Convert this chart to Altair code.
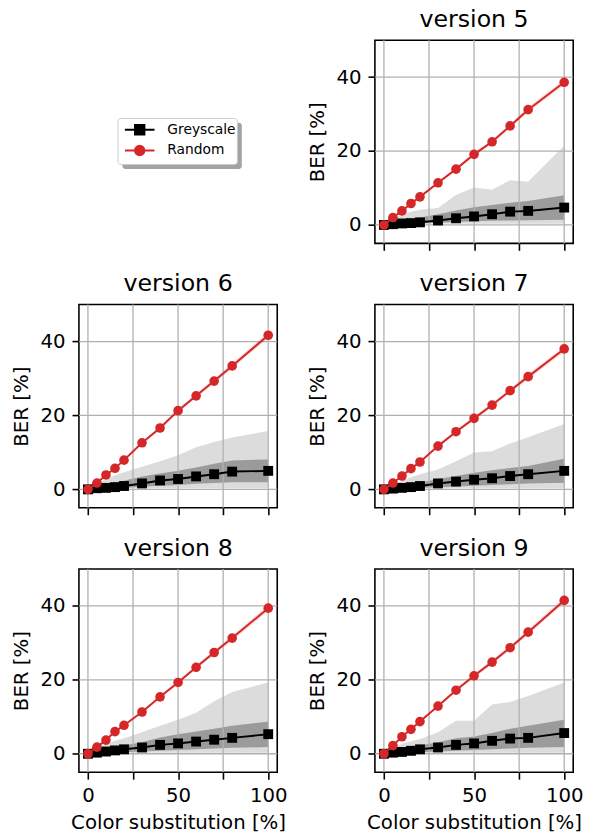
import altair as alt
import pandas as pd

# ---------------- data ----------------
x_vals = [0, 5, 10, 15, 20, 30, 40, 50, 60, 70, 80, 100]
x_ticks = [0, 25, 50, 75, 100]
y_ticks = [0, 20, 40]
series_names = ["Greyscale", "Random"]
series_colors = ["#000000", "#d62728"]

# Random substitution (red) mean BER
random_v5 = [0, 2.0, 3.8, 5.8, 7.6, 11.4, 15.1, 19.1, 22.5, 26.8, 31.2, 38.6]
random_v6 = [0, 1.7, 3.9, 5.7, 7.9, 12.6, 16.6, 21.3, 25.3, 29.3, 33.4, 41.7]
random_v7 = [0, 1.7, 3.6, 5.6, 7.4, 11.7, 15.6, 19.2, 22.8, 26.7, 30.5, 38.0]
random_v8 = [0, 1.8, 3.7, 6.0, 7.7, 11.3, 15.4, 19.3, 23.4, 27.4, 31.3, 39.4]
random_v9 = [0, 2.2, 4.6, 6.6, 8.7, 12.9, 17.2, 21.1, 24.8, 28.7, 32.9, 41.5]
random_spread = [0, 0.1, 0.15, 0.2, 0.25, 0.3, 0.4, 0.5, 0.55, 0.6, 0.7, 0.8]

# Greyscale substitution (black) mean BER
grey_v5 = [0, 0.2, 0.4, 0.5, 0.7, 1.2, 1.8, 2.3, 2.9, 3.6, 3.8, 4.7]
grey_v6 = [0, 0.3, 0.4, 0.6, 0.9, 1.6, 2.4, 2.8, 3.5, 4.1, 4.8, 5.0]
grey_v7 = [0, 0.2, 0.4, 0.6, 0.9, 1.6, 2.1, 2.6, 3.0, 3.6, 4.1, 5.0]
grey_v8 = [0, 0.3, 0.6, 0.9, 1.2, 1.7, 2.4, 2.8, 3.3, 3.8, 4.3, 5.3]
grey_v9 = [0, 0.3, 0.5, 0.8, 1.2, 1.7, 2.4, 2.8, 3.5, 4.1, 4.3, 5.6]

# Greyscale range (light band) upper edge
grey_max_v5 = [0, 1.5, 2.9, 3.6, 4.1, 4.6, 8.1, 10.1, 9.5, 12.1, 11.7, 21.4]
grey_max_v6 = [0, 1.3, 2.7, 3.8, 4.6, 6.1, 7.6, 9.2, 11.4, 12.8, 14.0, 15.8]
grey_max_v7 = [0, 1.2, 2.3, 3.3, 4.1, 5.4, 7.6, 10.0, 10.3, 12.4, 14.1, 17.7]
grey_max_v8 = [0, 1.5, 2.7, 3.5, 4.2, 5.8, 7.6, 9.2, 11.1, 14.2, 16.7, 19.3]
grey_max_v9 = [0, 1.4, 2.7, 3.4, 4.0, 5.8, 8.9, 8.9, 13.3, 14.0, 15.6, 19.3]
grey_min = [0, 0.1, 0.2, 0.3, 0.3, 0.3, 0.3, 0.3, 0.3, 0.3, 0.3, 0.3]

# Greyscale inner band (dark band)
grey_qhi_v5 = [0, 0.6, 1.1, 1.6, 2.0, 2.9, 3.9, 4.8, 5.4, 6.0, 6.5, 8.0]
grey_qhi_v6 = [0, 0.7, 1.4, 1.9, 2.3, 3.5, 4.3, 5.0, 5.9, 6.9, 7.8, 8.1]
grey_qhi_v7 = [0, 0.5, 1.0, 1.4, 1.8, 2.8, 3.6, 4.5, 5.2, 5.8, 6.3, 8.3]
grey_qhi_v8 = [0, 0.7, 1.3, 1.8, 2.2, 3.1, 4.4, 5.3, 6.0, 6.8, 7.6, 8.7]
grey_qhi_v9 = [0, 0.7, 1.3, 1.8, 2.2, 3.1, 4.2, 4.7, 5.6, 6.8, 7.6, 9.2]
grey_qlo_v5 = [0, 0.1, 0.2, 0.3, 0.4, 0.6, 0.8, 1.0, 1.1, 1.2, 1.3, 1.4]
grey_qlo_v6 = [0, 0.1, 0.2, 0.3, 0.4, 0.7, 1.0, 1.2, 1.5, 1.7, 1.9, 1.9]
grey_qlo_v7 = [0, 0.1, 0.2, 0.3, 0.4, 0.6, 0.8, 1.0, 1.2, 1.4, 1.6, 1.8]
grey_qlo_v8 = [0, 0.1, 0.2, 0.3, 0.4, 0.6, 0.8, 1.0, 1.2, 1.4, 1.6, 1.8]
grey_qlo_v9 = [0, 0.1, 0.2, 0.3, 0.4, 0.6, 0.8, 1.0, 1.2, 1.4, 1.6, 1.8]

PW, PH = 201, 206
FONT = "DejaVu Sans"

xs = alt.Scale(domain=[-5, 105], nice=False, zero=False)
ys = alt.Scale(domain=[-5, 50], nice=False, zero=False)


def panel(name, red, grey, gmax, qhi, qlo, bottom):
    df = pd.DataFrame({
        "x": x_vals,
        "random": red,
        "grey": grey,
        "gmax": gmax,
        "gmin": grey_min,
        "qhi": qhi,
        "qlo": qlo,
        "rlo": [r - s for r, s in zip(red, random_spread)],
        "rhi": [r + s for r, s in zip(red, random_spread)],
    })
    if bottom:
        xaxis = alt.Axis(values=x_ticks, title="Color substitution [%]",
                         labelExpr="datum.value % 50 === 0 ? datum.label : ''")
    else:
        xaxis = alt.Axis(values=x_ticks, labels=False, title=None)
    yaxis = alt.Axis(values=y_ticks, title="BER [%]")

    def X(f):
        return alt.X(f, type="quantitative", scale=xs, axis=xaxis)

    def Y(f):
        return alt.Y(f, type="quantitative", scale=ys, axis=yaxis)

    base = alt.Chart(df)
    light = base.mark_area(color="#dcdcdc", opacity=1).encode(
        x=X("x"), y=Y("gmin"), y2="gmax")
    dark = base.mark_area(color="#9b9b9b", opacity=1).encode(
        x=X("x"), y=Y("qlo"), y2="qhi")
    gx = alt.Chart(pd.DataFrame({"v": x_ticks})).mark_rule(
        color="#b0b0b0", strokeWidth=1.3).encode(x=X("v"))
    gy = alt.Chart(pd.DataFrame({"v": y_ticks})).mark_rule(
        color="#b0b0b0", strokeWidth=1.3).encode(y=Y("v"))
    rband = base.mark_area(color="#d62728", opacity=0.15).encode(
        x=X("x"), y=Y("rlo"), y2="rhi")
    gline = base.mark_line(color="black", strokeWidth=2).encode(x=X("x"), y=Y("grey"))
    gpts = base.mark_point(shape="square", filled=True, color="black",
                           size=100, opacity=1).encode(x=X("x"), y=Y("grey"))
    rline = base.mark_line(color="#d62728", strokeWidth=2).encode(x=X("x"), y=Y("random"))
    rpts = base.mark_point(shape="circle", filled=True, color="#d62728",
                           size=95, opacity=1).encode(x=X("x"), y=Y("random"))
    return alt.layer(light, dark, gx, gy, rband, gline, gpts, rline, rpts).properties(
        width=PW, height=PH, title=alt.Title(name))


# ---------------- legend panel ----------------
sq_path = "M-1,0H5M1.05,-0.95H2.95V0.95H1.05Z"
ci_path = "M-1,0H5M2.95,0A0.95,0.95 0 1,1 1.05,0A0.95,0.95 0 1,1 2.95,0Z"
leg_df = pd.DataFrame({"series": series_names})
frame_df = pd.DataFrame({"frame": ["legend"]})

LX, LY, LW, LH, SH = 39.6, 79.3, 121, 46.7, 4.5
main_legend = alt.Legend(
    title=None, orient="none", legendX=LX, legendY=LY - 0.5, padding=5,
    labelFont=FONT, labelFontSize=14, labelColor="black", labelOffset=31,
    symbolSize=100, symbolStrokeWidth=2, symbolOpacity=1, rowPadding=3)

sc = alt.Scale(domain=series_names, range=series_colors)
legend_shadow = alt.Chart(frame_df).mark_rect(
    color="#a3a3a3", cornerRadius=3).encode(
    x=alt.value(LX + SH), x2=alt.value(LX + LW + SH),
    y=alt.value(LY + SH), y2=alt.value(LY + LH + SH))
legend_box = alt.Chart(frame_df).mark_rect(
    fill="#ffffff", stroke="#cccccc", strokeWidth=1, cornerRadius=3).encode(
    x=alt.value(LX), x2=alt.value(LX + LW),
    y=alt.value(LY), y2=alt.value(LY + LH))
legend_entries = alt.Chart(leg_df).transform_filter("false").mark_point(
    filled=True, opacity=1).encode(
    fill=alt.Fill("series:N", scale=sc, legend=main_legend),
    stroke=alt.Stroke("series:N", scale=sc, legend=main_legend),
    shape=alt.Shape("series:N", scale=alt.Scale(domain=series_names, range=[sq_path, ci_path]),
                    legend=main_legend),
)
legend_panel = alt.layer(legend_shadow, legend_box, legend_entries).properties(
    width=PW, height=PH, view=alt.ViewBackground(stroke="transparent"))

p5 = panel("version 5", random_v5, grey_v5, grey_max_v5, grey_qhi_v5, grey_qlo_v5, False)
p6 = panel("version 6", random_v6, grey_v6, grey_max_v6, grey_qhi_v6, grey_qlo_v6, False)
p7 = panel("version 7", random_v7, grey_v7, grey_max_v7, grey_qhi_v7, grey_qlo_v7, False)
p8 = panel("version 8", random_v8, grey_v8, grey_max_v8, grey_qhi_v8, grey_qlo_v8, True)
p9 = panel("version 9", random_v9, grey_v9, grey_max_v9, grey_qhi_v9, grey_qlo_v9, True)

chart = alt.concat(
    legend_panel, p5, p6, p7, p8, p9, columns=2,
    spacing=alt.RowColnumber(row=62, column=99), bounds="flush",
).resolve_scale(
    fill="independent", stroke="independent", shape="independent"
).resolve_legend(
    fill="independent", stroke="independent", shape="independent"
).properties(
    padding={"left": 10, "top": 1, "right": 5, "bottom": 3},
    background="white",
).configure_view(
    stroke="black", strokeWidth=1.6
).configure_axis(
    labelFont=FONT, titleFont=FONT, labelFontSize=20, titleFontSize=20,
    titleFontWeight="normal", labelColor="black", titleColor="black",
    tickColor="black", tickWidth=1.6, tickSize=7, domain=False, grid=False,
    labelPadding=7, titlePadding=9,
).configure_axisX(
    titlePadding=7
).configure_title(
    font=FONT, fontSize=24, fontWeight="normal", color="black",
    frame="group", anchor="middle", baseline="alphabetic", offset=8,
)

chart.save("out.html", embed_options={"renderer": "svg", "actions": False})
